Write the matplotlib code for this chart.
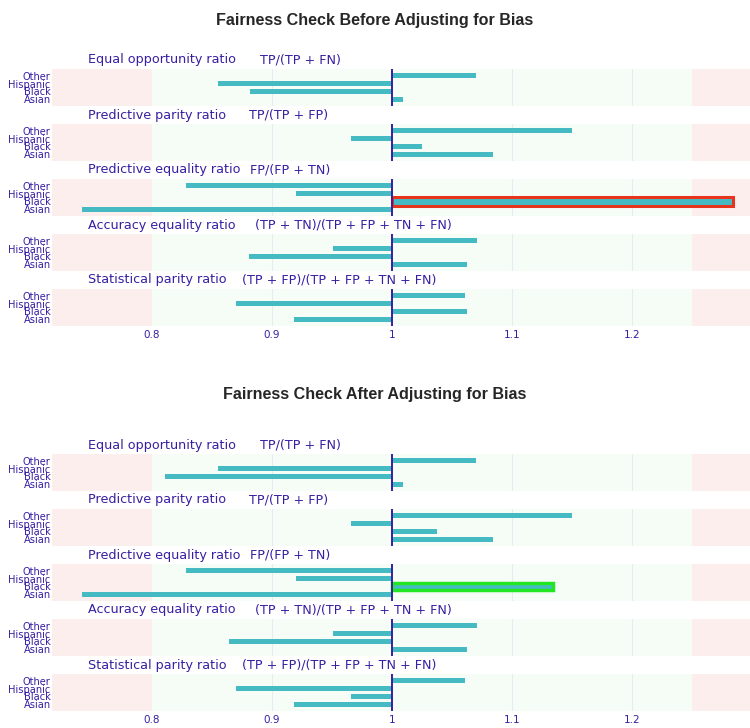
"""
Fairness check bar panels, before and after bias adjustment
"""

import matplotlib
matplotlib.use('Agg')
import matplotlib.pyplot as plt

groups = ['Asian', 'Black', 'Hispanic', 'Other']

metrics = ['Equal opportunity ratio', 'Predictive parity ratio',
           'Predictive equality ratio', 'Accuracy equality ratio',
           'Statistical parity ratio']
formulas = ['TP/(TP + FN)', 'TP/(TP + FP)', 'FP/(FP + TN)',
            '(TP + TN)/(TP + FP + TN + FN)', '(TP + FP)/(TP + FP + TN + FN)']

# values per metric, ordered Asian, Black, Hispanic, Other
before_eq_opp = [1.009, 0.882, 0.855, 1.070]
before_pred_par = [1.084, 1.025, 0.966, 1.150]
before_pred_eq = [0.742, 1.284, 0.920, 0.828]
before_acc_eq = [1.062, 0.881, 0.951, 1.071]
before_stat_par = [0.918, 1.062, 0.870, 1.061]

after_eq_opp = [1.009, 0.811, 0.855, 1.070]
after_pred_par = [1.084, 1.037, 0.966, 1.150]
after_pred_eq = [0.742, 1.134, 0.920, 0.828]
after_acc_eq = [1.062, 0.864, 0.951, 1.071]
after_stat_par = [0.918, 0.966, 0.870, 1.061]

before = [before_eq_opp, before_pred_par, before_pred_eq, before_acc_eq, before_stat_par]
after = [after_eq_opp, after_pred_par, after_pred_eq, after_acc_eq, after_stat_par]

ticks = [0.8, 0.9, 1.0, 1.1, 1.2]
tick_labels = ['0.8', '0.9', '1', '1.1', '1.2']

W, H = 750, 728
BLUE = '#371ea3'
TEAL = '#46bac2'
# x pixel where each formula starts
formula_x = [260, 249, 250, 255, 242]


def draw_block(fig, data, title, title_y, panel_tops, highlight):
    fig.text(0.5, 1 - title_y / H, title, ha='center', va='center',
             fontsize=11.6, fontweight='bold', color='#262626',
             family='Liberation Sans')
    for i, vals in enumerate(data):
        top = panel_tops[i]
        ax = fig.add_axes([52 / W, 1 - (top + 37) / H, (W - 52) / W, 37 / H])
        ax.set_xlim(0.7167, 1.298)
        ax.set_ylim(-0.85, 3.85)
        ax.axvspan(0.7, 0.8, color='#fdeeee', lw=0, zorder=0)
        ax.axvspan(0.8, 1.25, color='#f6fdf6', lw=0, zorder=0)
        ax.axvspan(1.25, 1.4, color='#fdeeee', lw=0, zorder=0)
        for g in [0.9, 1.1, 1.2]:
            ax.axvline(g, color='#e6ecf2', lw=0.8, zorder=1)
        widths = [v - 1 for v in vals]
        bars = ax.barh(range(len(groups)), widths, left=1, height=0.6,
                       color=TEAL, zorder=2)
        if i == 2:
            b = bars[1]
            if highlight == 'red':
                b.set_height(1.1)
                b.set_y(1 - 0.55)
                b.set_edgecolor('#e8341c')
                b.set_linewidth(2.2)
            else:
                b.set_height(0.95)
                b.set_y(1 - 0.475)
                b.set_edgecolor('#22e622')
                b.set_linewidth(2.5)
        ax.axvline(1, color=BLUE, lw=1.4, zorder=3)
        for s in ax.spines.values():
            s.set_visible(False)
        ax.set_yticks(range(len(groups)))
        ax.set_yticklabels(groups, fontsize=7.1, color=BLUE)
        ax.tick_params(axis='y', length=0, pad=1)
        ax.tick_params(axis='x', length=0, pad=3, labelsize=7.5, colors=BLUE)
        ax.set_xticks(ticks)
        if i == len(data) - 1:
            ax.set_xticklabels(tick_labels)
        else:
            ax.set_xticklabels([])
        y = 1 - (top - 9) / H
        fig.text(88 / W, y, metrics[i], ha='left', va='center',
                 fontsize=9.2, color=BLUE)
        fig.text(formula_x[i] / W, y, formulas[i], ha='left', va='center',
                 fontsize=9.2, color=BLUE)


fig = plt.figure(figsize=(W / 100, H / 100), dpi=100)
draw_block(fig, before, 'Fairness Check Before Adjusting for Bias', 20,
           [69, 124, 179, 234, 289], 'red')
draw_block(fig, after, 'Fairness Check After Adjusting for Bias', 394,
           [454, 509, 564, 619, 674], 'green')
fig.savefig('out.png', dpi=100)
